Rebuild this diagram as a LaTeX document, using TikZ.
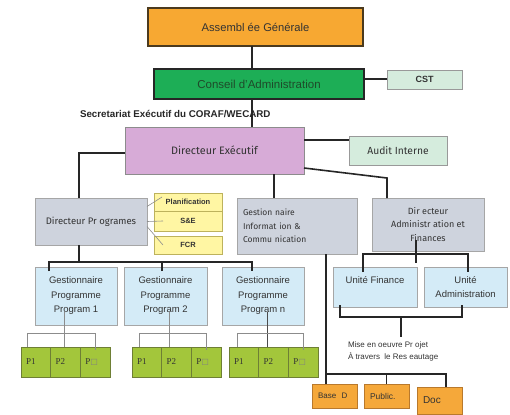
\documentclass[tikz,border=0pt]{standalone}
\usepackage{fontspec}
\setmainfont{Liberation Sans}
\newfontfamily\frut{Fira Sans}
\newfontfamily\tms{Liberation Serif}
\newfontfamily\symb{DejaVu Sans}

\definecolor{agorange}{HTML}{F7A832}
\definecolor{agborder}{HTML}{4B3A1E}
\definecolor{cagreen}{HTML}{1DAE56}
\definecolor{catext}{HTML}{1F4A2A}
\definecolor{palegreen}{HTML}{D5ECDD}
\definecolor{mauve}{HTML}{D7ABD7}
\definecolor{greyblue}{HTML}{CED3DD}
\definecolor{paleyellow}{HTML}{FFF6A3}
\definecolor{ybord}{HTML}{BDB25C}
\definecolor{paleblue}{HTML}{D4EBF7}
\definecolor{pgreen}{HTML}{A3C63B}
\definecolor{pbord}{HTML}{6E7F35}
\definecolor{borange}{HTML}{F5A83A}
\definecolor{obord}{HTML}{B9792C}
\definecolor{txt}{HTML}{333333}

\begin{document}
\begin{tikzpicture}[x=1pt,y=-1pt,
    every node/.style={outer sep=0pt,inner sep=2pt,text=txt},
    box/.style={draw,anchor=north west,align=center,line width=0.8pt},
    greybox/.style={box,fill=greyblue,draw=black!35,font=\frut\fontsize{9}{13.5}\selectfont},
    ybox/.style={box,fill=paleyellow,draw=ybord,minimum width=68pt,font=\bfseries\fontsize{7.5}{9}\selectfont},
    gpbox/.style={box,fill=paleblue,draw=black!35,minimum height=58pt,font=\fontsize{9.5}{14.5}\selectfont},
    ubox/.style={box,fill=paleblue,draw=black!35,minimum height=40pt,font=\fontsize{9.5}{14}\selectfont},
    pcell/.style={box,fill=pgreen,draw=pbord,anchor=west,minimum width=29.7pt,minimum height=30pt,
        inner xsep=5pt,text width=19.7pt,align=left,font=\tms\fontsize{9}{10}\selectfont},
    obox/.style={box,fill=borange,draw=obord,minimum width=45pt,inner xsep=6pt,text width=33pt,align=left},
    link/.style={line width=1.6pt,draw=black!85},
    twig/.style={line width=0.6pt,draw=black!45}]

    \useasboundingbox (0,0) rectangle (510,414);

    % top of the chart
    \node [box, fill=agorange, draw=agborder, line width=2pt, minimum width=215pt, minimum height=38pt,
        font=\fontsize{11.2}{13}\selectfont] (ag) at (148,8) {Assembl ée Générale};
    \node [box, fill=cagreen, draw=black!85, line width=1.6pt, minimum width=210pt, minimum height=30pt,
        text=catext, font=\fontsize{11.5}{13}\selectfont] (ca) at (154,69) {Conseil d'Administration};
    \node [box, fill=palegreen, draw=black!40, minimum width=75pt, minimum height=19pt,
        font=\bfseries\fontsize{9}{10}\selectfont] (cst) at (387,70) {CST};
    \node [anchor=west, inner sep=0pt, text=black!85, font=\bfseries\fontsize{9.8}{11}\selectfont]
        (secr) at (80,114) {Secretariat Exécutif du CORAF/WECARD};

    \node [box, fill=mauve, draw=black!45, minimum width=179pt, minimum height=47pt,
        font=\frut\fontsize{10.8}{12}\selectfont] (de) at (125,127) {Directeur Exécutif};
    \node [box, fill=palegreen, draw=black!40, minimum width=98pt, minimum height=29pt,
        font=\frut\fontsize{10.3}{12}\selectfont] (audit) at (349,136) {Audit Interne};

    % directions
    \node [greybox, minimum width=112pt, minimum height=47pt, font=\frut\fontsize{9.5}{11}\selectfont]
        (dp) at (35,198) {Directeur Pr ogrames};
    \node [ybox, minimum height=18pt] (plan) at (154,193) {Planification};
    \node [ybox, minimum height=20pt] (se) at (154,211) {S\&E};
    \node [ybox, minimum height=18pt] (fcr) at (154,236) {FCR};
    \node [greybox, minimum width=120pt, minimum height=56pt, inner xsep=6pt, text width=108pt, align=left,
        font=\frut\fontsize{8.5}{13.5}\selectfont] (gic) at (237,198) {Gestion naire\\Informat ion \&\\Commu nication};
    \node [greybox, minimum width=112pt, minimum height=53pt] (daf) at (372,198)
        {Dir ecteur\\Administr ation et\\Finances};

    % programmes
    \node [gpbox, minimum width=82pt] (gp1) at (35,267) {Gestionnaire\\Programme\\Program 1};
    \node [gpbox, minimum width=83pt] (gp2) at (124,267) {Gestionnaire\\Programme\\Program 2};
    \node [gpbox, minimum width=82pt] (gpn) at (222,267) {Gestionnaire\\Programme\\Program n};

    \node [pcell, anchor=north west] (p11) at (21,347) {P1};
    \node [pcell] (p12) at (p11.east) {P2};
    \node [pcell] (p13) at (p12.east) {P{\symb\fontsize{8}{9}\selectfont\color{black!50}□}};

    \node [pcell, anchor=north west] (p21) at (132,347) {P1};
    \node [pcell] (p22) at (p21.east) {P2};
    \node [pcell] (p23) at (p22.east) {P{\symb\fontsize{8}{9}\selectfont\color{black!50}□}};

    \node [pcell, anchor=north west] (p31) at (229,347) {P1};
    \node [pcell] (p32) at (p31.east) {P2};
    \node [pcell] (p33) at (p32.east) {P{\symb\fontsize{8}{9}\selectfont\color{black!50}□}};

    % administration side
    \node [ubox, minimum width=84pt] (uf) at (333,267) {Unité Finance\\\mbox{}};
    \node [ubox, minimum width=83pt] (ua) at (424,267) {Unité\\Administration};
    \node [anchor=north west, inner sep=0pt, align=left, font=\fontsize{8}{12}\selectfont]
        (mise) at (348,342) {Mise en oeuvre Pr ojet\\À travers~~le Res eautage};

    \node [obox, minimum height=24pt, font=\fontsize{8}{9}\selectfont] (based) at (312,384) {Base~~D};
    \node [obox, minimum height=24pt, font=\fontsize{8.5}{9}\selectfont] (public) at (364,384) {Public.};
    \node [obox, minimum height=27pt, font=\fontsize{10}{11}\selectfont] (doc) at (417,387) {Doc};

    % connectors
    \coordinate (spine) at (252,0);
    \draw [link] (ag.south -| spine) -- (ca.north -| spine);
    \draw [link] (ca.south -| spine) -- (de.north -| spine);
    \coordinate (cstin) at ([yshift=0.5pt]cst.west);
    \draw [link] (cstin -| ca.east) -- (cstin);

    \coordinate (auditin) at ([yshift=10.5pt]audit.west);
    \draw [link] (auditin -| de.east) -- (auditin);
    \draw [link] ([yshift=-2.5pt]de.west) -| ([xshift=-12pt]dp.north);
    \coordinate (gicin) at ([xshift=-23pt]gic.north);
    \draw [link] (gicin |- de.south) -- (gicin);
    \draw [link] ([yshift=6pt]de.south east) -- ([xshift=-41pt,yshift=20pt]daf.north) -- ([xshift=-41pt]daf.north);

    \draw [twig] ([yshift=15pt]dp.east) -- ([xshift=8pt,yshift=5pt]plan.west);
    \draw [twig] (dp.east) -- ([xshift=9pt]se.west);
    \draw [twig] ([yshift=-5pt]dp.east) -- ([xshift=9pt]fcr.west);

    \draw [link] ([xshift=-12pt]dp.south) -- ++(0,17);
    \draw [link] ([xshift=-27pt,yshift=-4pt]gp1.north) -- ++(0,-9) -| ([xshift=-11pt,yshift=-4pt]gpn.north);
    \draw [link] ([xshift=-3.5pt,yshift=-4pt]gp2.north) -- ++(0,-9);

    \draw [twig] ([xshift=-1.5pt]p12.north) -- ++(0,-35);
    \draw [twig] ([xshift=-9pt]p11.north) -- ++(0,-14) -| ([yshift=-3pt]p13.north);
    \draw [twig] ([xshift=-7.5pt]p22.north) -- ++(0,-35);
    \draw [twig] ([xshift=-8pt]p21.north) -- ++(0,-14) -| ([yshift=-3pt]p23.north);
    \draw [twig, line width=1pt, draw=black!70] ([xshift=-6.5pt]p32.north) -- ++(0,-35);
    \draw [twig] ([xshift=-7pt]p31.north) -- ++(0,-14) -| ([yshift=-3pt]p33.north);

    \draw [link] ([xshift=-12pt,yshift=11pt]daf.south) -- ++(0,23);
    \draw [link] ([xshift=-12pt,yshift=-5pt]uf.north) -- ++(0,-18) -| ([xshift=2.5pt,yshift=-5pt]ua.north);
    \draw [link] ([xshift=-35pt,yshift=2pt]uf.south) -- ++(0,12) -| ([xshift=-3.5pt,yshift=2pt]ua.south);
    \coordinate (drop) at (401,317);
    \draw [link] (drop) -- ++(0,20);

    \coordinate (gicout) at ([xshift=29pt]gic.south);
    \draw [link] (gicout) -- (gicout |- based.north);
    \coordinate (bdtop) at (gicout |- based.north);
    \draw [link] ([yshift=10pt]bdtop) -| ([xshift=6.5pt]doc.north);
    \draw [link] (public.north) -- ++(0,-10);

\end{tikzpicture}
\end{document}
